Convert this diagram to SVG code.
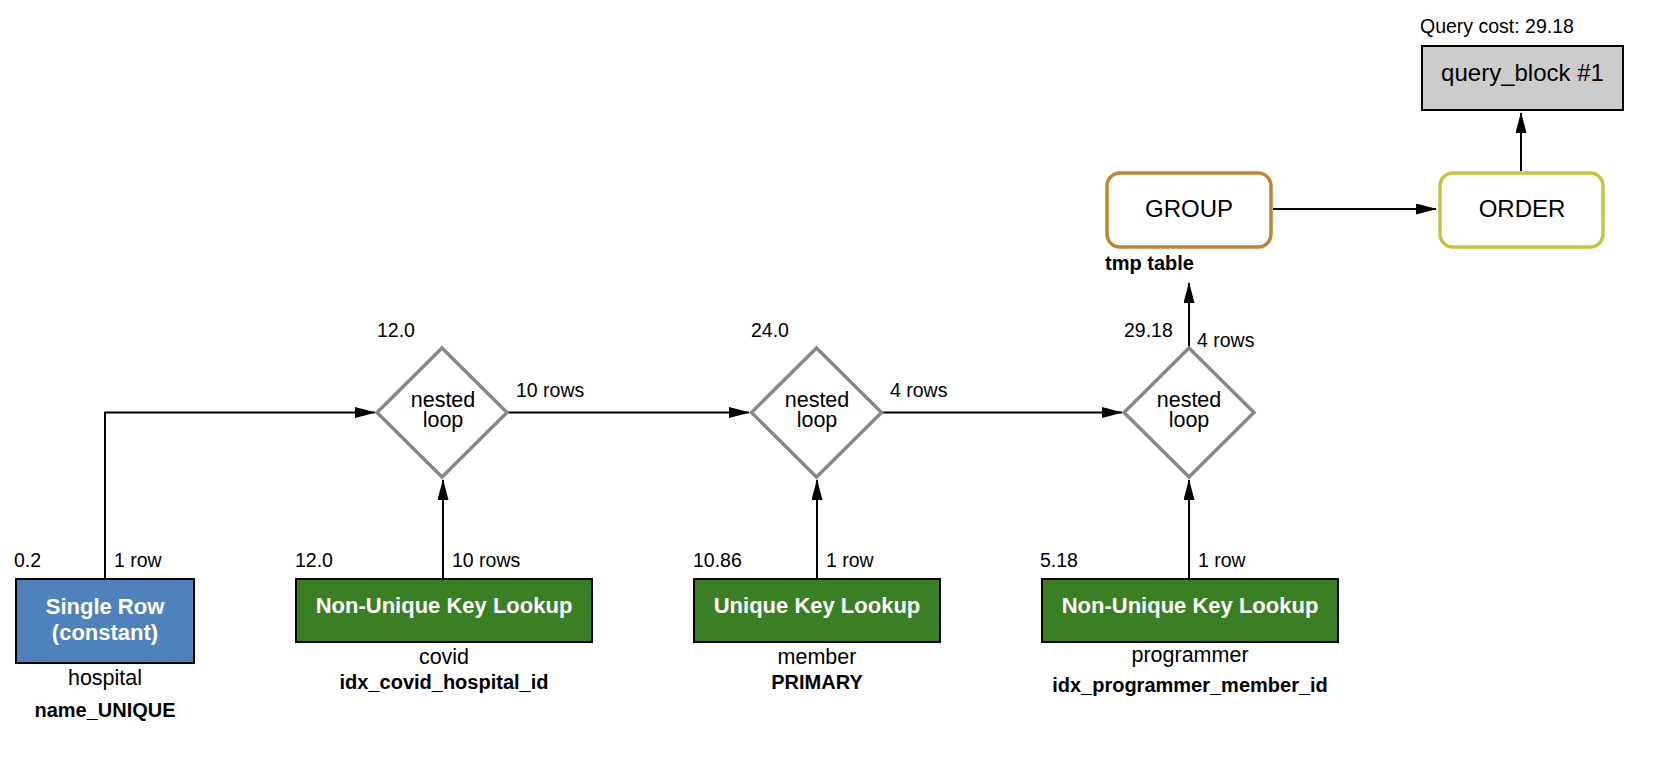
<svg xmlns="http://www.w3.org/2000/svg" width="1656" height="764" viewBox="0 0 1656 764">
<defs>
<style>
text{font-family:"Liberation Sans",Arial,Helvetica,sans-serif;fill:#000}
.lbl{font-size:19.5px}
.sub{font-size:21.5px;text-anchor:middle}
.idx{font-size:20px;font-weight:bold;text-anchor:middle}
.ttl{font-size:22px;font-weight:bold;fill:#fff;text-anchor:middle}
.big{font-size:24px;text-anchor:middle}
.box{stroke:#000;stroke-width:2}
.blue{fill:#4f81bd}
.green{fill:#3a7f23}
.dia{fill:#fff;stroke:#888;stroke-width:3.5;stroke-linejoin:miter}
.edge{fill:none;stroke:#000;stroke-width:2;marker-end:url(#ah)}
</style>
<marker id="ah" markerUnits="userSpaceOnUse" markerWidth="22" markerHeight="12" refX="20" refY="5.5" orient="auto">
<path d="M0,0 L21,5.5 L0,11 z" fill="#000"/>
</marker>
</defs>
<rect width="1656" height="764" fill="#fff"/>

<g id="connectors">
<path class="edge" d="M105,578 V412.5 H375"/>
<path class="edge" d="M443,578 V480"/>
<path class="edge" d="M508,412.5 H749"/>
<path class="edge" d="M817,578 V480"/>
<path class="edge" d="M882,412.5 H1122"/>
<path class="edge" d="M1189,578 V480"/>
<path class="edge" d="M1189,347 V283"/>
<path class="edge" d="M1273,209 H1436"/>
<path class="edge" d="M1521,171 V113"/>
<text class="lbl" x="114" y="567">1 row</text>
<text class="lbl" x="452" y="567">10 rows</text>
<text class="lbl" x="516" y="397">10 rows</text>
<text class="lbl" x="826" y="567">1 row</text>
<text class="lbl" x="890" y="397">4 rows</text>
<text class="lbl" x="1198" y="567">1 row</text>
<text class="lbl" x="1197" y="347">4 rows</text>
</g>

<g id="query_block">
<text class="lbl" x="1420" y="33">Query cost: 29.18</text>
<rect x="1422" y="46" width="201" height="64" fill="#cccccc" class="box"/>
<text class="big" x="1522.5" y="81">query_block #1</text>
</g>

<g id="order">
<rect x="1440" y="173" width="163" height="74" rx="13" fill="#fff" stroke="#c9c13f" stroke-width="3.5"/>
<text class="big" x="1522" y="217">ORDER</text>
</g>

<g id="group">
<rect x="1107" y="173" width="164" height="74" rx="13" fill="#fff" stroke="#bf8530" stroke-width="3.5"/>
<text class="big" x="1189" y="217">GROUP</text>
<text x="1105" y="270" style="font-size:20px;font-weight:bold">tmp table</text>
</g>

<g id="nested_loop_1">
<text class="lbl" x="377" y="337">12.0</text>
<polygon class="dia" points="442,348 507,412.5 442,477 377,412.5"/>
<text class="sub" x="443" y="407">nested</text>
<text class="sub" x="443" y="427">loop</text>
</g>

<g id="nested_loop_2">
<text class="lbl" x="751" y="337">24.0</text>
<polygon class="dia" points="816.5,348 881.5,412.5 816.5,477 751.5,412.5"/>
<text class="sub" x="817" y="407">nested</text>
<text class="sub" x="817" y="427">loop</text>
</g>

<g id="nested_loop_3">
<text class="lbl" x="1124" y="337">29.18</text>
<polygon class="dia" points="1189,348 1254,412.5 1189,477 1124,412.5"/>
<text class="sub" x="1189" y="407">nested</text>
<text class="sub" x="1189" y="427">loop</text>
</g>

<g id="hospital">
<text class="lbl" x="14" y="567">0.2</text>
<rect x="16" y="579" width="178" height="84" class="box blue"/>
<text class="ttl" x="105" y="614">Single Row</text>
<text class="ttl" x="105" y="640">(constant)</text>
<text class="sub" x="105" y="685">hospital</text>
<text class="idx" x="105" y="717">name_UNIQUE</text>
</g>

<g id="covid">
<text class="lbl" x="295" y="567">12.0</text>
<rect x="296" y="579" width="296" height="63" class="box green"/>
<text class="ttl" x="444" y="613">Non-Unique Key Lookup</text>
<text class="sub" x="444" y="664">covid</text>
<text class="idx" x="444" y="689">idx_covid_hospital_id</text>
</g>

<g id="member">
<text class="lbl" x="693" y="567">10.86</text>
<rect x="694" y="579" width="246" height="63" class="box green"/>
<text class="ttl" x="817" y="613">Unique Key Lookup</text>
<text class="sub" x="817" y="664">member</text>
<text class="idx" x="817" y="689">PRIMARY</text>
</g>

<g id="programmer">
<text class="lbl" x="1040" y="567">5.18</text>
<rect x="1042" y="579" width="296" height="63" class="box green"/>
<text class="ttl" x="1190" y="613">Non-Unique Key Lookup</text>
<text class="sub" x="1190" y="662">programmer</text>
<text class="idx" x="1190" y="692">idx_programmer_member_id</text>
</g>
</svg>
